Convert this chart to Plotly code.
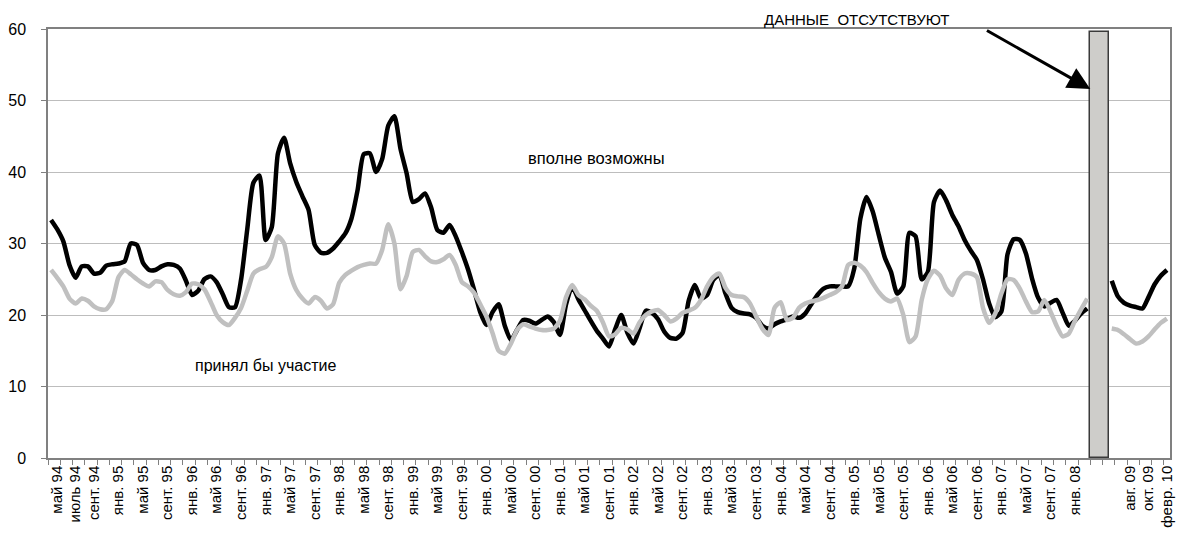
import plotly.graph_objects as go

# --- data ---
# category index: one category per survey point; 0..169 before the gap, 173..182 after it
possible_pre = [33.3, 32.0, 30.3, 27.0, 25.2, 26.8, 26.8, 25.8, 25.9, 26.9,
                27.1, 27.2, 27.5, 30.0, 29.8, 27.3, 26.3, 26.3, 26.8, 27.1,
                27.0, 26.5, 24.8, 22.8, 23.4, 25.0, 25.4, 24.6, 22.9, 21.1,
                21.1, 25.0, 32.0, 38.5, 39.5, 30.5, 32.3, 42.6, 44.8, 41.2,
                38.6, 36.6, 34.7, 29.8, 28.7, 28.7, 29.3, 30.3, 31.4, 33.5,
                37.5, 42.5, 42.6, 40.0, 41.8, 46.5, 47.8, 43.2, 39.8, 35.8,
                36.2, 37.0, 35.0, 31.9, 31.5, 32.6, 31.0, 28.8, 26.4, 23.5,
                20.4, 18.6, 20.4, 21.5, 18.5, 16.5, 17.9, 19.3, 19.2, 18.8,
                19.3, 19.8, 19.0, 17.2, 21.5, 24.0, 22.2, 20.7, 19.2, 17.8,
                16.7, 15.6, 18.0, 20.0, 17.5, 16.0, 18.2, 20.6, 20.3, 19.4,
                17.7, 16.8, 16.7, 17.5, 22.0, 24.2, 22.3, 22.8, 24.9, 25.6,
                23.0, 21.0, 20.4, 20.2, 20.1, 19.6, 18.5, 18.1, 18.7, 19.1,
                19.4, 19.8, 19.6, 20.2, 21.5, 22.8, 23.7, 24.0, 24.0, 24.0,
                24.0, 26.5, 33.5, 36.5, 34.5, 31.2, 28.0, 26.0, 23.0, 24.0,
                31.5, 31.0, 25.0, 26.0, 35.8, 37.4, 36.0, 34.0, 32.4, 30.5,
                29.0, 27.7, 25.0, 21.6, 19.7, 20.5, 28.5, 30.6, 30.5, 28.6,
                25.1, 22.4, 21.2, 21.7, 22.1, 20.3, 18.5, 19.2, 20.2, 20.9]
possible_post = [24.8, 22.6, 21.7, 21.3, 21.1, 20.9, 22.5, 24.3, 25.5, 26.3]

participate_pre = [26.3, 25.2, 24.0, 22.3, 21.6, 22.3, 22.0, 21.2, 20.8, 20.8,
                   22.0, 25.3, 26.3, 25.7, 25.0, 24.4, 24.0, 24.7, 24.6, 23.5,
                   22.9, 22.7, 23.2, 24.4, 24.3, 23.6, 21.9, 20.0, 19.0, 18.6,
                   19.6, 21.0, 23.4, 25.8, 26.4, 26.7, 28.1, 31.0, 30.0, 25.8,
                   23.5, 22.3, 21.6, 22.5, 22.0, 20.9, 21.5, 24.5, 25.6, 26.2,
                   26.7, 27.0, 27.2, 27.2, 29.1, 32.7, 30.0, 23.6, 25.5, 28.8,
                   29.1, 28.2, 27.5, 27.4, 27.8, 28.4, 27.0, 24.6, 24.0, 23.1,
                   21.5, 19.8, 17.5, 15.0, 14.6, 16.0, 17.9, 18.7, 18.4, 18.1,
                   17.9, 17.9, 18.1, 19.2, 22.5, 24.2, 22.8, 22.2, 21.3, 20.6,
                   19.0, 17.0, 17.3, 18.2, 18.0, 17.4, 19.0, 20.0, 20.5, 20.7,
                   20.0, 19.1, 19.5, 20.3, 20.6, 21.0, 22.1, 24.0, 25.3, 25.8,
                   23.8, 22.8, 22.6, 22.5, 21.6, 19.8, 18.1, 17.2, 21.0, 21.8,
                   19.3, 19.6, 21.0, 21.6, 21.9, 22.1, 22.4, 22.8, 23.2, 24.0,
                   27.0, 27.3, 26.9, 26.0, 24.5, 23.2, 22.3, 21.9, 22.3, 20.0,
                   16.2, 17.0, 22.1, 25.0, 26.2, 25.5, 23.7, 22.8, 24.9, 25.8,
                   25.8, 25.3, 21.0, 18.9, 20.2, 23.0, 25.0, 24.9, 23.7, 21.9,
                   20.4, 20.5, 22.1, 20.5, 18.5, 17.0, 17.4, 19.2, 20.8, 22.3]
participate_post = [18.1, 17.9, 17.3, 16.6, 16.0, 16.3, 17.0, 18.0, 18.9, 19.5]

tick_labels = ["май 94", "июль 94", "сент. 94",
               "янв. 95", "май 95", "сент. 95", "янв. 96", "май 96", "сент. 96",
               "янв. 97", "май 97", "сент. 97", "янв. 98", "май 98", "сент. 98",
               "янв. 99", "май 99", "сент. 99", "янв. 00", "май 00", "сент. 00",
               "янв. 01", "май 01", "сент. 01", "янв. 02", "май 02", "сент. 02",
               "янв. 03", "май 03", "сент. 03", "янв. 04", "май 04", "сент. 04",
               "янв. 05", "май 05", "сент. 05", "янв. 06", "май 06", "сент. 06",
               "янв. 07", "май 07", "сент. 07", "янв. 08",
               "авг. 09", "окт. 09", "февр. 10"]
tick_index = [1, 4, 7] + list(range(11, 168, 4)) + [176, 179, 182]

gap_index = 171          # category at the centre of the "no data" column
gap_value = 59.6         # height of the "no data" column

n_pre = len(possible_pre)
post_start = 173
x_pre = list(range(n_pre))
x_post = list(range(post_start, post_start + len(possible_post)))

FONT = "Liberation Sans Narrow, Arial Narrow, Liberation Sans, Arial, sans-serif"

fig = go.Figure()

fig.add_trace(go.Bar(x=[gap_index], y=[gap_value], width=[3],
                     marker=dict(color="#cecdca", line=dict(color="#3a3a3a", width=1.5)),
                     showlegend=False, hoverinfo="skip"))

line_black = dict(color="#000000", width=4.5, shape="spline", smoothing=0.6)
line_gray = dict(color="#c0c0c0", width=4.5, shape="spline", smoothing=0.6)

fig.add_trace(go.Scatter(x=x_pre, y=possible_pre, mode="lines", line=line_black,
                         name="вполне возможны", showlegend=False))
fig.add_trace(go.Scatter(x=x_post, y=possible_post, mode="lines", line=line_black,
                         name="вполне возможны", showlegend=False))
fig.add_trace(go.Scatter(x=x_pre, y=participate_pre, mode="lines", line=line_gray,
                         name="принял бы участие", showlegend=False))
fig.add_trace(go.Scatter(x=x_post, y=participate_post, mode="lines", line=line_gray,
                         name="принял бы участие", showlegend=False))

fig.add_annotation(x=89, y=42.0, text="вполне возможны", showarrow=False,
                   font=dict(family=FONT, size=16.5, color="#000"))
fig.add_annotation(x=35, y=12.9, text="принял бы участие", showarrow=False,
                   font=dict(family=FONT, size=16, color="#000"))
fig.add_annotation(x=131.3, xref="x", y=1.0, yref="paper", yanchor="bottom", yshift=-1,
                   text="ДАННЫЕ  ОТСУТСТВУЮТ", showarrow=False,
                   font=dict(family=FONT, size=15, color="#000"))
fig.add_annotation(x=169.5, y=51.6, ax=152.4, ay=59.9, axref="x", ayref="y",
                   xref="x", yref="y", text="", showarrow=True,
                   arrowhead=2, arrowsize=1.5, arrowwidth=3, arrowcolor="#000")

# the page body carries an 8px margin, so the figure is 8px smaller and the
# left/top margins 8px tighter to land the plot area where the reference has it
fig.update_layout(
    width=1176, height=531,
    margin=dict(l=40, r=14, t=21, b=81),
    paper_bgcolor="white", plot_bgcolor="white",
    font=dict(family=FONT, color="#000"),
    bargap=0,
    showlegend=False,
)
fig.update_xaxes(
    range=[-0.5, 182.5], tickmode="array", tickvals=tick_index, ticktext=tick_labels,
    tickangle=-90, ticks="", tickfont=dict(family=FONT, size=15),
    showgrid=False, zeroline=False, automargin=False,
    showline=True, linecolor="#808080", linewidth=1.5, mirror=True,
    minor=dict(tickmode="linear", tick0=-0.5, dtick=2, ticks="outside",
               ticklen=5, tickcolor="#808080", showgrid=False),
)
fig.update_yaxes(
    range=[0, 60], tickmode="linear", tick0=0, dtick=10,
    ticks="outside", ticklen=5, tickcolor="#808080",
    tickfont=dict(family=FONT, size=16),
    showgrid=True, gridcolor="#bdbdbd", gridwidth=1, zeroline=False, automargin=False,
    showline=True, linecolor="#808080", linewidth=1.5, mirror=True,
    ticklabelstandoff=12,
)

fig.write_html("out.html")
